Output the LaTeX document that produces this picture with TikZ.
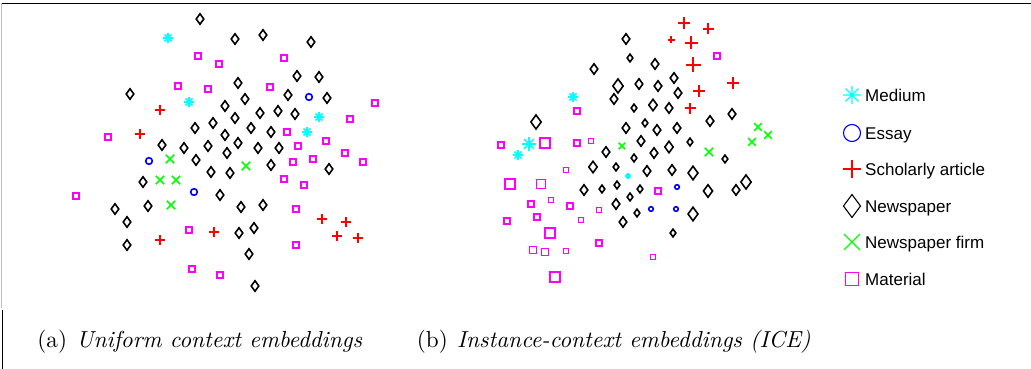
\documentclass[tikz,border=0pt]{standalone}
\usepackage{fontspec}
\newfontfamily\legfont{Liberation Sans}
\definecolor{mcyan}{rgb}{0,1,1}
\definecolor{mblue}{rgb}{0,0,1}
\definecolor{mred}{rgb}{1,0,0}
\definecolor{mgreen}{rgb}{0,1,0}
\definecolor{mmag}{rgb}{1,0,1}
\tikzset{
  mk/.style={line width=1.6pt, line join=miter},
  dia/.style={mk, draw=black},
  sq/.style={mk, draw=mmag},
  pl/.style={mk, draw=mred},
  xx/.style={mk, draw=mgreen},
  ci/.style={mk, draw=mblue},
  as/.style={mk, draw=mcyan},
  lg/.style={line width=1.1pt},
  legtext/.style={anchor=base west, inner sep=0pt, font=\legfont\fontsize{17}{20}\selectfont},
  captext/.style={anchor=base west, inner sep=0pt, scale=2.32, transform shape}
}
\begin{document}
\begin{tikzpicture}[x=1pt,y=-1pt]
\useasboundingbox (0,0) rectangle (1031,369);
% frame lines
\draw[black, line width=1pt] (1,3.5) -- (1031,3.5);
\draw[black!25, line width=0.8pt] (1,3.5) -- (1,308);
\draw[black, line width=1pt] (2,310) -- (2,369);

% ---------- panel (a) ----------
\foreach \x/\y in {200/19,235/39,263/35,311/42,297/76,319/77,238/83,130/94,288/95,327/98,245/99,225/106,260/113,278/111,295/114,235/118,213/123,195/128,251/128,271/132,225/135,162/145,184/148,208/146,238/143,258/148,279/148,227/153,196/160,271/165,329/169,211/172,230/173,143/182,220/195,115/209,148/206,241/207,263/205,127/222,254/228,239/233,127/245,249/254,255/286}
  \draw[dia] (\x-3.8,\y) -- (\x,\y-5.2) -- (\x+3.8,\y) -- (\x,\y+5.2) -- cycle;
\foreach \x/\y in {198/56,219/64,284/58,178/86,208/89,270/87,375/103,350/119,108/137,287/132,298/146,326/141,345/153,363/162,293/162,313/159,284/179,304/185,76/196,296/209,189/230,296/245,192/269,220/275}
  \draw[sq] (\x-3.2,\y-3.2) rectangle (\x+3.2,\y+3.2);
\foreach \x/\y in {168/38,189/102,319/117,307/132}
  \draw[as] (\x-5,\y) -- (\x+5,\y) (\x,\y-5) -- (\x,\y+5) (\x-3.5,\y-3.5) -- (\x+3.5,\y+3.5) (\x-3.5,\y+3.5) -- (\x+3.5,\y-3.5);
\foreach \x/\y in {309/97,149/161,194/192}
  \draw[ci] (\x,\y) circle (3.3);
\foreach \x/\y in {160/110,140/134,322/219,346/222,337/236,358/238,214/232,160/240}
  \draw[pl] (\x-4.8,\y) -- (\x+4.8,\y) (\x,\y-4.8) -- (\x,\y+4.8);
\foreach \x/\y in {170/159,246/166,160/180,176/180,171/205}
  \draw[xx] (\x-4.2,\y-4.2) -- (\x+4.2,\y+4.2) (\x-4.2,\y+4.2) -- (\x+4.2,\y-4.2);

% ---------- panel (b) ----------
\foreach \x/\y/\s in {626/39/1,630/58/0.75,655/64/1,594/69/1,618/86/1.35,639/84/1,658/86/1,674/78/1,614/99/1,678/93/1,634/108/0.75,653/105/1.1,669/108/1,536/122/1.35,710/121/1,732/114/1,626/128/1,645/123/0.75,657/130/1,677/128/1,641/141/1,690/142/0.75,606/152/1,669/147/1.1,654/153/1,634/158/0.75,725/159/0.75,593/167/1.1,616/167/0.75,647/171/1,672/170/1,693/173/1.3,584/190/1,602/189/0.75,617/185/0.75,640/189/0.75,630/197/0.75,708/191/1.2,736/190/1,746/182/1.35,616/204/1,637/213/0.75,693/214/1.3,623/222/1,673/233/0.75}
  \draw[dia] (\x-3.8*\s,\y) -- (\x,\y-5.2*\s) -- (\x+3.8*\s,\y) -- (\x,\y+5.2*\s) -- cycle;
\foreach \x/\y/\s in {717/56/3.2,577/111/3.2,591/141/2.6,577/143/3.2,545/143/5,501/145/3.2,510/184/5.2,541/184/4.6,566/170/2.4,658/191/3.2,531/204/3.2,551/200/2.4,570/206/3.2,599/210/2.4,537/217/3.2,507/221/3.2,581/220/2.4,550/233/4.8,599/243/3,533/250/3.6,545/252/3.6,566/251/2.4,653/257/2.4,555/277/5}
  \draw[sq] (\x-\s,\y-\s) rectangle (\x+\s,\y+\s);
\foreach \x/\y/\s in {573/97/5,529/144/7,518/155/5}
  \draw[as] (\x-\s,\y) -- (\x+\s,\y) (\x,\y-\s) -- (\x,\y+\s) (\x-0.7*\s,\y-0.7*\s) -- (\x+0.7*\s,\y+0.7*\s) (\x-0.7*\s,\y+0.7*\s) -- (\x+0.7*\s,\y-0.7*\s);
\fill[mcyan] (628,176) circle (3);
\foreach \x/\y in {677/187,651/209,676/209}
  \draw[ci] (\x,\y) circle (2.3);
\foreach \x/\y/\s in {684/23/6,708/29/5.5,671/40/3.5,691/43/6.5,693/65/7.5,733/83/6,699/91/6,690/108/5.5}
  \draw[pl] (\x-\s,\y) -- (\x+\s,\y) (\x,\y-\s) -- (\x,\y+\s);
\foreach \x/\y/\s in {622/146/3.2,709/152/4.2,758/127/3.8,768/135/3.8,752/142/3.8}
  \draw[xx] (\x-\s,\y-\s) -- (\x+\s,\y+\s) (\x-\s,\y+\s) -- (\x+\s,\y-\s);

% ---------- legend ----------
\draw[as, lg] (843,95) -- (861,95) (852,86) -- (852,104) (845.6,88.6) -- (858.4,101.4) (845.6,101.4) -- (858.4,88.6);
\node[legtext] (lmed) at (865,101) {Medium};
\draw[ci, lg] (852,133) circle (8.5);
\node[legtext] (less) at (865,139) {Essay};
\draw[pl, lg] (843,169) -- (861,169) (852,160) -- (852,178);
\node[legtext] (lsch) at (865,175) {Scholarly article};
\draw[dia, lg] (843.5,206) -- (852,194.5) -- (860.5,206) -- (852,217.5) -- cycle;
\node[legtext] (lnew) at (865,212) {Newspaper};
\draw[xx, lg] (844,234) -- (860,250) (844,250) -- (860,234);
\node[legtext] (lfirm) at (865,248) {Newspaper firm};
\draw[sq, lg] (845.5,272.5) rectangle (858.5,285.5);
\node[legtext] (lmat) at (865,285) {Material};

% ---------- captions ----------
\node[captext] (capa) at (37,347) {(a)\hspace{0.4em}\textit{Uniform context embeddings}};
\node[captext] (capb) at (416.5,347) {(b)\hspace{0.4em}\textit{Instance-context embeddings (ICE)}};
\end{tikzpicture}
\end{document}
